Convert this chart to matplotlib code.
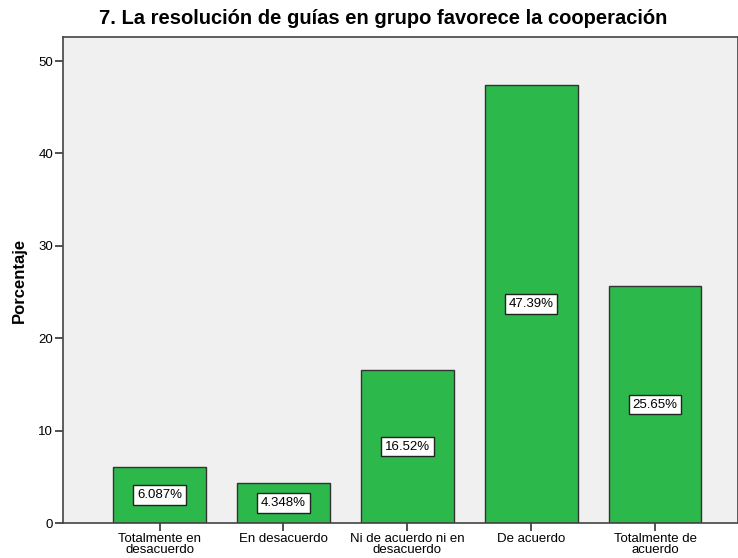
import matplotlib
matplotlib.use("Agg")
import matplotlib.pyplot as plt

categories = ["Totalmente en\ndesacuerdo", "En desacuerdo", "Ni de acuerdo ni en\ndesacuerdo",
              "De acuerdo", "Totalmente de\nacuerdo"]
values = [6.087, 4.348, 16.52, 47.39, 25.65]
labels = ["6.087%", "4.348%", "16.52%", "47.39%", "25.65%"]
yticks = [0, 10, 20, 30, 40, 50]

plt.rcParams['font.family'] = ['Liberation Sans', 'DejaVu Sans']

fig = plt.figure(figsize=(7.38, 5.58), dpi=100)
ax = fig.add_axes([63/738, 1-523/558, 1-63/738, (523-37)/558])
ax.set_facecolor('#F0F0F0')

x = list(range(len(categories)))
ax.bar(x, values, width=0.75, color='#2DB84B', edgecolor='#333333', linewidth=1.0, zorder=2)
for xi, v, lab in zip(x, values, labels):
    ax.text(xi, v/2, lab, ha='center', va='center', fontsize=9.5, zorder=3,
            bbox=dict(boxstyle='square,pad=0.28', facecolor='white', edgecolor='#222222', linewidth=1.0))

ax.set_xlim(-0.78, 4.67)
ax.set_ylim(0, 52.6)
ax.set_yticks(yticks)
ax.set_xticks(x)
ax.set_xticklabels(categories, fontsize=9.5, linespacing=0.9)
ax.tick_params(axis='y', labelsize=9.5, length=6, width=1.2, color='#333333', pad=1)
ax.tick_params(axis='x', length=6, width=1.2, color='#333333', pad=1)
for s in ['left', 'bottom', 'top', 'right']:
    ax.spines[s].set_color('#444444')
    ax.spines[s].set_linewidth(1.2)
ax.set_ylabel('Porcentaje', fontsize=12, fontweight='bold', labelpad=8)
fig.suptitle('7. La resolución de guías en grupo favorece la cooperación', fontsize=14.5,
             fontweight='bold', x=383/738, y=1-19/558, va='center')
fig.savefig('out.png', dpi=100)
